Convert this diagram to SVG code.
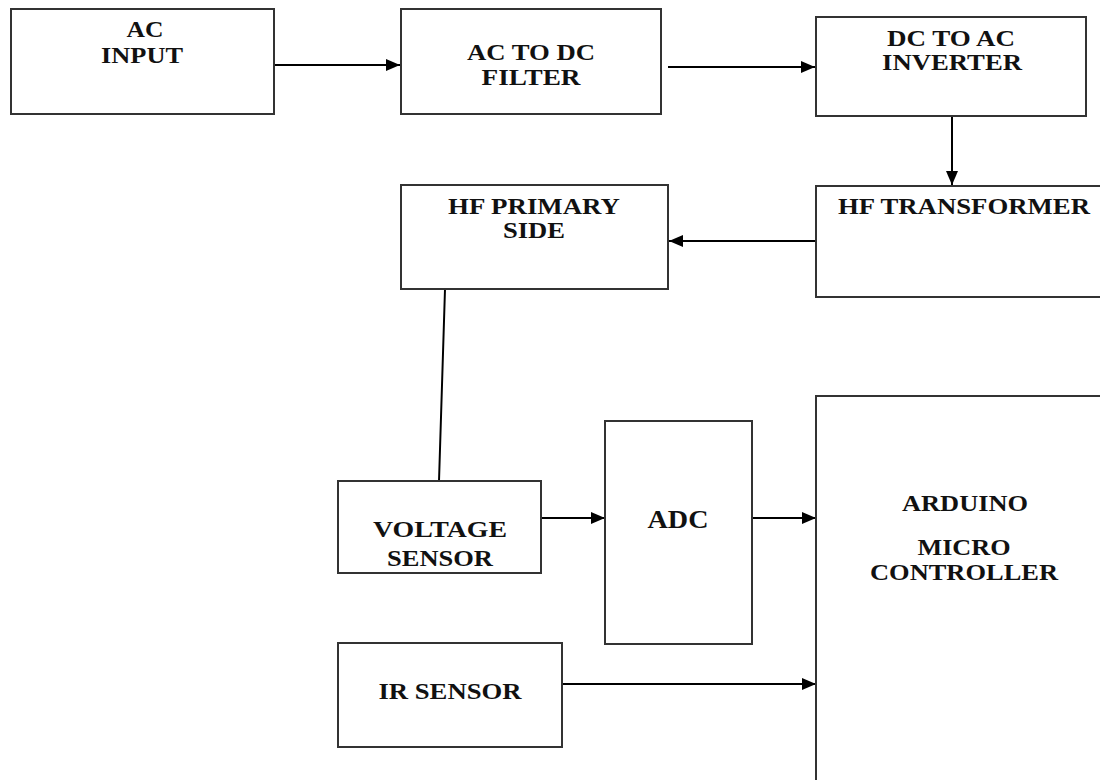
<svg xmlns="http://www.w3.org/2000/svg" width="1100" height="780" viewBox="0 0 1100 780">
<style>
.box{fill:#fff;stroke:#333;stroke-width:2}
.t{font-family:"Liberation Serif","Times New Roman",serif;font-weight:bold;font-size:23px;fill:#111;text-anchor:middle}
.c{stroke:#000;stroke-width:2;fill:none}
</style>
<defs>
<marker id="ah" markerUnits="userSpaceOnUse" markerWidth="14" markerHeight="12" refX="14" refY="6" orient="auto">
<path d="M0,0 L14,6 L0,12 Z" fill="#000"/>
</marker>
</defs>
<rect width="1100" height="780" fill="#fff"/>
<g id="connectors">
<line class="c" x1="274" y1="65" x2="400" y2="65" marker-end="url(#ah)"/>
<line class="c" x1="668" y1="67" x2="815" y2="67" marker-end="url(#ah)"/>
<line class="c" x1="952" y1="116" x2="952" y2="185" marker-end="url(#ah)"/>
<line class="c" x1="816" y1="241" x2="669" y2="241" marker-end="url(#ah)"/>
<line class="c" x1="445" y1="289" x2="439" y2="481"/>
<line class="c" x1="541" y1="518" x2="605" y2="518" marker-end="url(#ah)"/>
<line class="c" x1="752" y1="518" x2="816" y2="518" marker-end="url(#ah)"/>
<line class="c" x1="562" y1="684" x2="816" y2="684" marker-end="url(#ah)"/>
</g>
<g id="ac-input">
<rect class="box" x="11" y="9" width="263" height="105"/>
<text class="t" transform="translate(145,37) scale(1.2,1)" textLength="30.8" lengthAdjust="spacingAndGlyphs">AC</text>
<text class="t" transform="translate(142,63) scale(1.2,1)" textLength="68.3" lengthAdjust="spacingAndGlyphs">INPUT</text>
</g>
<g id="ac-dc-filter">
<rect class="box" x="401" y="9" width="260" height="105"/>
<text class="t" transform="translate(531,60) scale(1.2,1)" textLength="106.7" lengthAdjust="spacingAndGlyphs">AC TO DC</text>
<text class="t" transform="translate(531,85) scale(1.2,1)" textLength="82.5" lengthAdjust="spacingAndGlyphs">FILTER</text>
</g>
<g id="dc-ac-inverter">
<rect class="box" x="816" y="17" width="270" height="99"/>
<text class="t" transform="translate(951,46) scale(1.2,1)" textLength="106.7" lengthAdjust="spacingAndGlyphs">DC TO AC</text>
<text class="t" transform="translate(952,70) scale(1.2,1)" textLength="116.7" lengthAdjust="spacingAndGlyphs">INVERTER</text>
</g>
<g id="hf-transformer">
<rect class="box" x="816" y="186" width="300" height="111"/>
<text class="t" transform="translate(964,214) scale(1.2,1)" textLength="210" lengthAdjust="spacingAndGlyphs">HF TRANSFORMER</text>
</g>
<g id="hf-primary-side">
<rect class="box" x="401" y="185" width="267" height="104"/>
<text class="t" transform="translate(534,214) scale(1.2,1)" textLength="143.3" lengthAdjust="spacingAndGlyphs">HF PRIMARY</text>
<text class="t" transform="translate(534,238) scale(1.2,1)" textLength="51.7" lengthAdjust="spacingAndGlyphs">SIDE</text>
</g>
<g id="voltage-sensor">
<rect class="box" x="338" y="481" width="203" height="92"/>
<text class="t" transform="translate(440,537) scale(1.2,1)" textLength="111.7" lengthAdjust="spacingAndGlyphs">VOLTAGE</text>
<text class="t" transform="translate(440,566) scale(1.2,1)" textLength="88.3" lengthAdjust="spacingAndGlyphs">SENSOR</text>
</g>
<g id="adc">
<rect class="box" x="605" y="421" width="147" height="223"/>
<text class="t" transform="translate(678,528) scale(1.2,1)" style="font-size:25px" textLength="50.8" lengthAdjust="spacingAndGlyphs">ADC</text>
</g>
<g id="ir-sensor">
<rect class="box" x="338" y="643" width="224" height="104"/>
<text class="t" transform="translate(450,699) scale(1.2,1)" textLength="119.2" lengthAdjust="spacingAndGlyphs">IR SENSOR</text>
</g>
<g id="arduino">
<rect class="box" x="816" y="396" width="300" height="400"/>
<text class="t" transform="translate(965,511) scale(1.2,1)" textLength="105" lengthAdjust="spacingAndGlyphs">ARDUINO</text>
<text class="t" transform="translate(964,555) scale(1.2,1)" textLength="77.5" lengthAdjust="spacingAndGlyphs">MICRO</text>
<text class="t" transform="translate(964,580) scale(1.2,1)" textLength="156.7" lengthAdjust="spacingAndGlyphs">CONTROLLER</text>
</g>
</svg>
